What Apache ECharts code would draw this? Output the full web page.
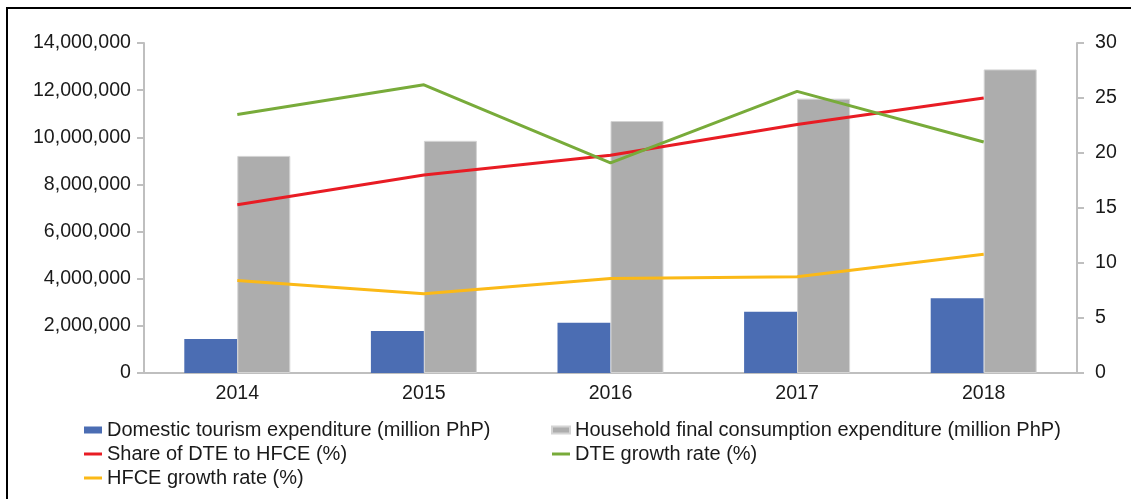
<!DOCTYPE html>
<html>
<head>
<meta charset="utf-8">
<script src="https://cdn.jsdelivr.net/npm/echarts@6/dist/echarts.min.js"></script>
<style>
html, body { margin: 0; padding: 0; background: #fff; }
#chart { width: 1131px; height: 499px; }
</style>
</head>
<body>
<div id="chart"></div>
<script>
var years = ['2014', '2015', '2016', '2017', '2018'];
var dteSpend = [1440000, 1780000, 2130000, 2600000, 3170000];
var hfceSpend = [9210000, 9850000, 10690000, 11640000, 12880000];
var shareDte = [15.3, 18.0, 19.8, 22.6, 25.0];
var dteGrowth = [23.5, 26.2, 19.1, 25.6, 21.0];
var hfceGrowth = [8.4, 7.2, 8.6, 8.75, 10.8];

var names = [
    'Domestic tourism expenditure (million PhP)',
    'Household final consumption expenditure (million PhP)',
    'Share of DTE to HFCE (%)',
    'DTE growth rate (%)',
    'HFCE growth rate (%)'
];

var font = 'Liberation Sans, Arial, sans-serif';
var axisGrey = '#bfbfbf';
var lineIcon = 'path://M0,0h18v3h-18z';

var myChart = echarts.init(document.getElementById('chart'));
var legendText = { fontSize: 20, color: '#1a1a1a', fontFamily: font, lineHeight: 20 };
var option = {
    animation: false,
    textStyle: { fontFamily: font },
    graphic: [{
        type: 'rect',
        shape: { x: 7, y: 8, width: 1300, height: 700 },
        style: { fill: 'none', stroke: '#000', lineWidth: 2 }
    }],
    grid: { left: 144, right: 54, top: 43, bottom: 126 },
    legend: [{
        orient: 'vertical',
        left: 79,
        top: 415,
        itemWidth: 18,
        itemHeight: 7,
        itemGap: 4,
        symbolKeepAspect: true,
        textStyle: legendText,
        data: [
            { name: names[0], icon: 'rect' },
            { name: names[2], icon: lineIcon },
            { name: names[4], icon: lineIcon }
        ]
    }, {
        orient: 'vertical',
        left: 546,
        top: 415,
        itemWidth: 18,
        itemHeight: 7,
        itemGap: 4,
        symbolKeepAspect: true,
        textStyle: legendText,
        data: [
            { name: names[1], icon: 'rect' },
            { name: names[3], icon: lineIcon }
        ]
    }],
    xAxis: {
        type: 'category',
        data: years,
        axisLine: { lineStyle: { color: axisGrey, width: 2 } },
        axisTick: { show: false },
        axisLabel: { fontSize: 19.6, color: '#1a1a1a', margin: 11 }
    },
    yAxis: [{
        type: 'value',
        min: 0,
        max: 14000000,
        interval: 2000000,
        axisLine: { show: true, lineStyle: { color: axisGrey, width: 2 } },
        axisTick: { show: true, length: 7, lineStyle: { color: axisGrey, width: 2 } },
        splitLine: { show: false },
        axisLabel: {
            fontSize: 19.6, color: '#1a1a1a', margin: 13,
            formatter: function (v) { return v.toLocaleString('en-US'); }
        }
    }, {
        type: 'value',
        min: 0,
        max: 30,
        interval: 5,
        position: 'right',
        axisLine: { show: true, lineStyle: { color: axisGrey, width: 2 } },
        axisTick: { show: true, length: 7, lineStyle: { color: axisGrey, width: 2 } },
        splitLine: { show: false },
        axisLabel: { fontSize: 19.6, color: '#1a1a1a', margin: 18 }
    }],
    series: [{
        name: names[0],
        type: 'bar',
        data: dteSpend,
        barWidth: 53,
        barGap: '0%',
        itemStyle: { color: '#4B6DB3' }
    }, {
        name: names[1],
        type: 'bar',
        data: hfceSpend,
        barWidth: 53,
        barGap: '0%',
        itemStyle: { color: '#ADADAD', borderColor: '#d4d4d4', borderWidth: 1 }
    }, {
        name: names[2],
        type: 'line',
        yAxisIndex: 1,
        data: shareDte,
        symbol: 'none',
        lineStyle: { color: '#E81C24', width: 3 },
        itemStyle: { color: '#E81C24' }
    }, {
        name: names[3],
        type: 'line',
        yAxisIndex: 1,
        data: dteGrowth,
        symbol: 'none',
        lineStyle: { color: '#78AB3A', width: 3 },
        itemStyle: { color: '#78AB3A' }
    }, {
        name: names[4],
        type: 'line',
        yAxisIndex: 1,
        data: hfceGrowth,
        symbol: 'none',
        lineStyle: { color: '#FBB917', width: 3 },
        itemStyle: { color: '#FBB917' }
    }]
};
myChart.setOption(option);
window.onresize = function () {
    myChart.resize();
};
</script>
</body>
</html>
